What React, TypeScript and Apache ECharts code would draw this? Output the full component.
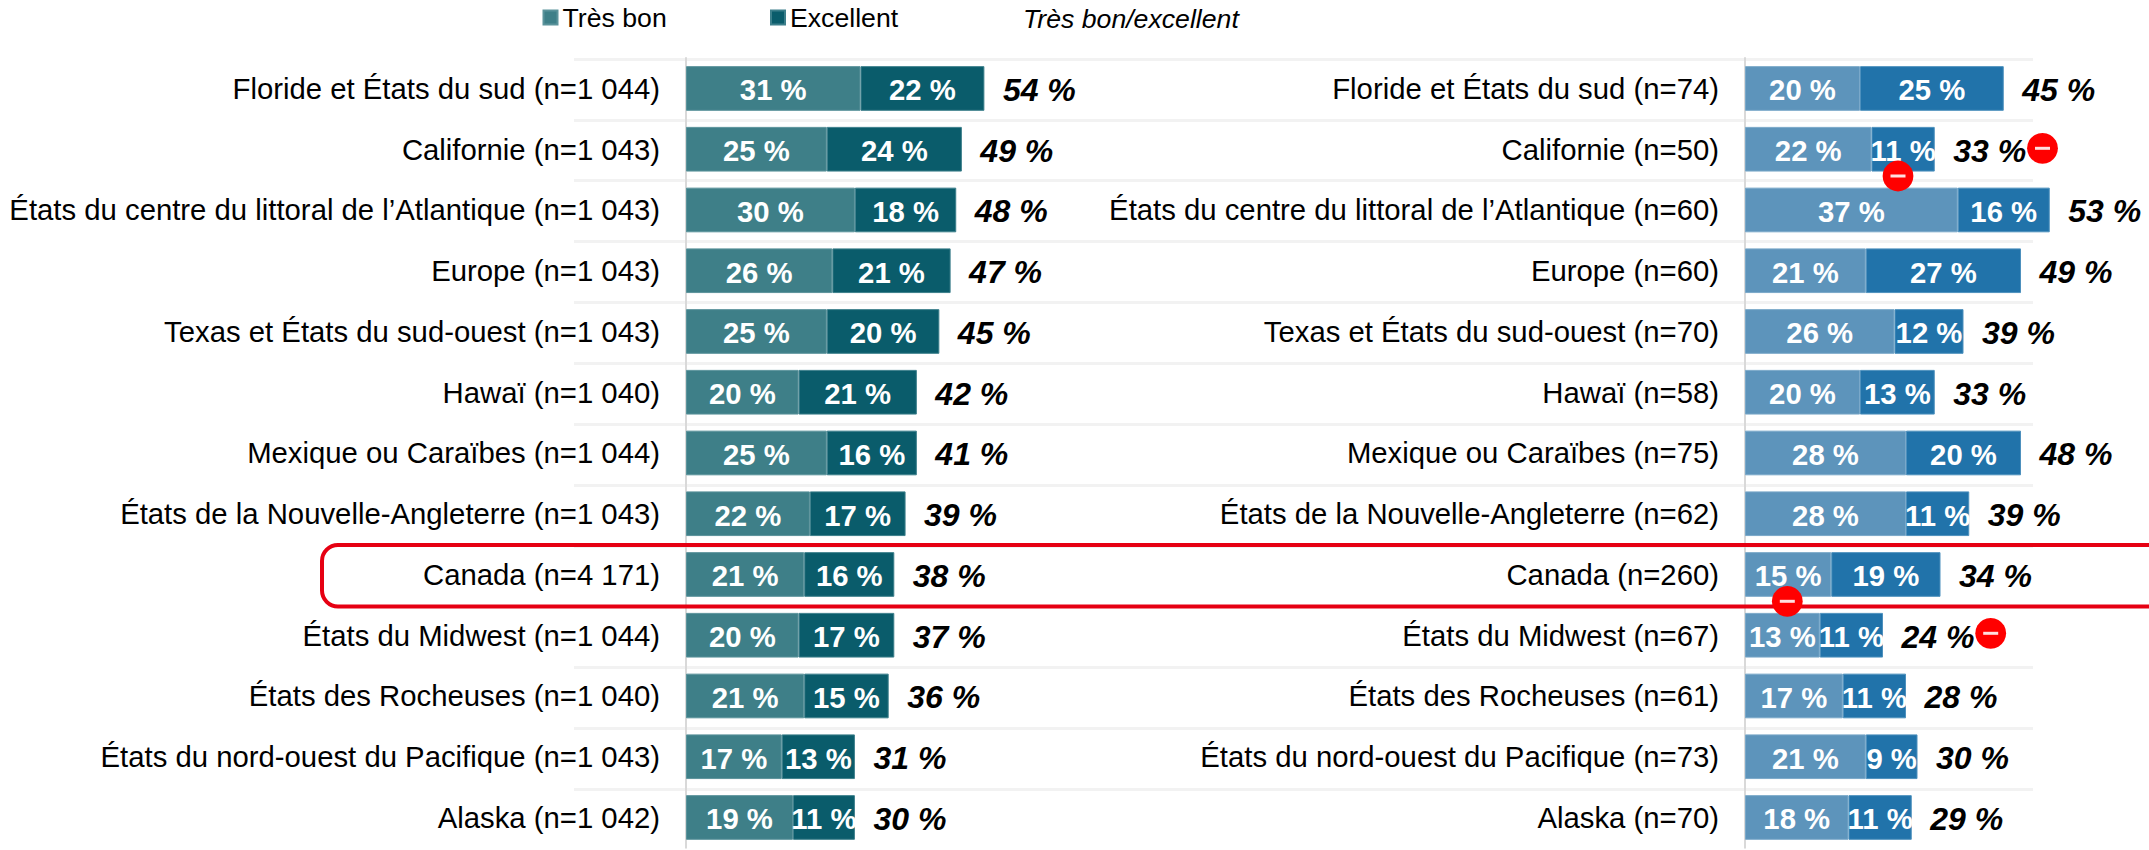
import React, { useEffect, useRef } from "react";
import * as echarts from "echarts";

const leftCategories = [
  "Floride et États du sud (n=1 044)",
  "Californie (n=1 043)",
  "États du centre du littoral de l’Atlantique (n=1 043)",
  "Europe (n=1 043)",
  "Texas et États du sud-ouest (n=1 043)",
  "Hawaï (n=1 040)",
  "Mexique ou Caraïbes (n=1 044)",
  "États de la Nouvelle-Angleterre (n=1 043)",
  "Canada (n=4 171)",
  "États du Midwest (n=1 044)",
  "États des Rocheuses (n=1 040)",
  "États du nord-ouest du Pacifique (n=1 043)",
  "Alaska (n=1 042)",
];
const leftTresBon = [31, 25, 30, 26, 25, 20, 25, 22, 21, 20, 21, 17, 19];
const leftExcellent = [22, 24, 18, 21, 20, 21, 16, 17, 16, 17, 15, 13, 11];
const leftTotal = [54, 49, 48, 47, 45, 42, 41, 39, 38, 37, 36, 31, 30];

const rightCategories = [
  "Floride et États du sud (n=74)",
  "Californie (n=50)",
  "États du centre du littoral de l’Atlantique (n=60)",
  "Europe (n=60)",
  "Texas et États du sud-ouest (n=70)",
  "Hawaï (n=58)",
  "Mexique ou Caraïbes (n=75)",
  "États de la Nouvelle-Angleterre (n=62)",
  "Canada (n=260)",
  "États du Midwest (n=67)",
  "États des Rocheuses (n=61)",
  "États du nord-ouest du Pacifique (n=73)",
  "Alaska (n=70)",
];
const rightTresBon = [20, 22, 37, 21, 26, 20, 28, 28, 15, 13, 17, 21, 18];
const rightExcellent = [25, 11, 16, 27, 12, 13, 20, 11, 19, 11, 11, 9, 11];
const rightTotal = [45, 33, 53, 49, 39, 33, 48, 39, 34, 24, 28, 30, 29];

const FONT = "'Liberation Sans', Arial, sans-serif";
const ROW = 60.75;
const BAR = 44.7;
const TOP = 58.1;

function panel(
  idx: number,
  light: string,
  dark: string,
  lightEdge: string,
  darkEdge: string,
  a: number[],
  b: number[],
  total: number[]
) {
  const inner = {
    show: true,
    position: "inside" as const,
    offset: [0, 1.5],
    color: "#fff",
    fontFamily: FONT,
    fontSize: 29.3,
    fontWeight: "bold" as const,
    formatter: (p: any) => `${p.value} %`,
  };
  return [
    {
      name: "Très bon",
      type: "bar",
      xAxisIndex: idx,
      yAxisIndex: idx,
      stack: "s" + idx,
      barWidth: BAR,
      data: a,
      itemStyle: { color: light, borderColor: lightEdge, borderWidth: 1 },
      label: inner,
    },
    {
      name: "Excellent",
      type: "bar",
      xAxisIndex: idx,
      yAxisIndex: idx,
      stack: "s" + idx,
      barWidth: BAR,
      data: b,
      itemStyle: { color: dark, borderColor: darkEdge, borderWidth: 1 },
      label: inner,
    },
    {
      name: "Très bon/excellent",
      type: "scatter",
      xAxisIndex: idx,
      yAxisIndex: idx,
      symbolSize: 1,
      itemStyle: { color: "rgba(0,0,0,0)", opacity: 1 },
      clip: false,
      z: 5,
      data: total.map((t, i) => [a[i] + b[i], i, t]),
      label: {
        show: true,
        position: "right",
        distance: 18,
        offset: [0, 1.5],
        color: "#000",
        fontFamily: FONT,
        fontSize: 32,
        fontWeight: "bold",
        fontStyle: "italic",
        formatter: (p: any) => `${p.value[2]} %`,
      },
    },
  ];
}

function minus(cx: number, cy: number) {
  return {
    type: "group",
    x: cx,
    y: cy,
    children: [
      { type: "circle", z: 100, shape: { cx: 0, cy: 0, r: 15.4 }, style: { fill: "#ff0000" } },
      { type: "rect", z: 101, shape: { x: -7.5, y: -1.5, width: 15, height: 3 }, style: { fill: "#ffe0e0" } },
    ],
  };
}

export default function App() {
  const ref = useRef<HTMLDivElement>(null);
  useEffect(() => {
    document.body.style.margin = "0";
    const chart = echarts.init(ref.current!, undefined, { renderer: "svg" });
    const catAxis = (gridIndex: number, data: string[], margin: number) => ({
      type: "category",
      gridIndex,
      data,
      inverse: true,
      axisTick: { show: false },
      axisLine: { show: true, onZero: false, lineStyle: { color: "#d9d9d9", width: 2 } },
      splitLine: { show: false },
      axisLabel: { color: "#000", fontFamily: FONT, fontSize: 29.3, margin, interval: 0 },
    });
    chart.setOption({
      animation: false,
      backgroundColor: "#fff",
      grid: [
        { left: 686, top: TOP, width: 382.84, height: ROW * 13 },
        { left: 1745, top: TOP, width: 402.5, height: ROW * 13 },
        { left: 574, top: 59, width: 1459, height: 61.05 * 13 },
      ],
      legend: [
        {
          data: ["Très bon"],
          icon: "rect",
          left: 542.5,
          top: 4,
          padding: 0,
          itemWidth: 14,
          itemHeight: 14,
          selectedMode: false,
          textStyle: { color: "#000", fontFamily: FONT, fontSize: 26.67 },
        },
        {
          data: ["Excellent"],
          icon: "rect",
          left: 770,
          top: 4,
          padding: 0,
          itemWidth: 14,
          itemHeight: 14,
          selectedMode: false,
          textStyle: { color: "#000", fontFamily: FONT, fontSize: 26.67 },
        },
      ],
      xAxis: [
        { type: "value", gridIndex: 0, min: 0, max: 68, show: false },
        { type: "value", gridIndex: 1, min: 0, max: 70, show: false },
        { type: "value", gridIndex: 2, min: 0, max: 1, show: false },
      ],
      yAxis: [
        catAxis(0, leftCategories, 26),
        catAxis(1, rightCategories, 26),
        {
          type: "category",
          gridIndex: 2,
          data: leftCategories,
          inverse: true,
          z: -1,
          axisLine: { show: false },
          axisTick: { show: false },
          axisLabel: { show: false },
          splitLine: {
            show: true,
            interval: 0,
            showMaxLine: false,
            lineStyle: { color: "#f2f2f2", width: 3 },
          },
        },
      ],
      series: [
        ...panel(0, "#3e7f88", "#0a5c6b", "#5b939b", "#3c7f8b", leftTresBon, leftExcellent, leftTotal),
        ...panel(1, "#5d94bb", "#2173aa", "#7aa8c9", "#4d90bd", rightTresBon, rightExcellent, rightTotal),
      ],
      graphic: [
        {
          type: "text",
          x: 1023,
          y: 19,
          style: {
            text: "Très bon/excellent",
            fill: "#000",
            font: `italic 26.67px ${FONT}`,
            verticalAlign: "middle",
          },
        },
        {
          type: "rect",
          z: 90,
          shape: { x: 322, y: 545, width: 1900, height: 61.5, r: 16 },
          style: { fill: "none", stroke: "#e60012", lineWidth: 4 },
        },
        minus(1898, 176),
        minus(2042.5, 148.3),
        minus(1787.3, 601.3),
        minus(1990.7, 633.3),
      ],
    });
    return () => chart.dispose();
  }, []);
  return <div ref={ref} style={{ width: 2149, height: 850, display: "block" }} />;
}
